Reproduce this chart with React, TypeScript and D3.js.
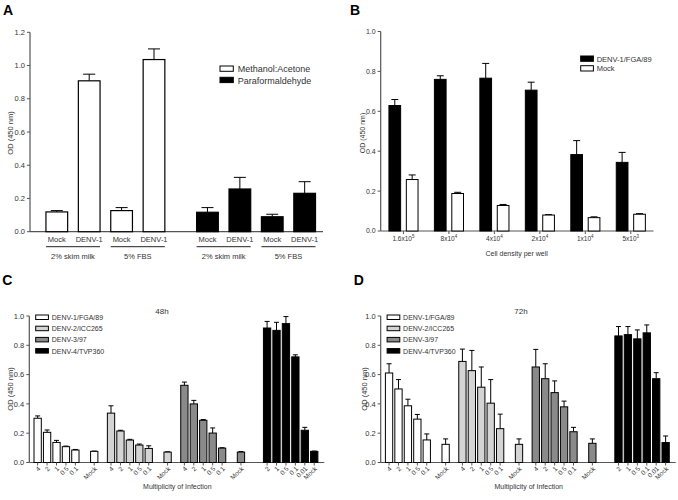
import React from "react";
import * as d3 from "d3";

const FONT = "'Liberation Sans', Arial, Helvetica, sans-serif";
const AXIS = "#555";
const TXT = "#333";

// ---------- Panel A data ----------
const aConditions = ["Mock", "DENV-1", "Mock", "DENV-1"];
const aMedia = ["2% skim milk", "5% FBS"];
const aFixatives = ["Methanol:Acetone", "Paraformaldehyde"];
const aMethanolMean = [0.119, 0.908, 0.127, 1.036];
const aMethanolErr = [0.008, 0.04, 0.018, 0.064];
const aParaMean = [0.117, 0.257, 0.09, 0.231];
const aParaErr = [0.028, 0.07, 0.015, 0.07];
const aTicks = [0, 0.2, 0.4, 0.6, 0.8, 1.0, 1.2];

// ---------- Panel B data ----------
const bDensityBase = ["1.6x10", "8x10", "4x10", "2x10", "1x10", "5x10"];
const bDensityExp = ["5", "4", "4", "4", "4", "3"];
const bSeries = ["DENV-1/FGA/89", "Mock"];
const bDenvMean = [0.629, 0.76, 0.766, 0.706, 0.383, 0.344];
const bDenvErr = [0.03, 0.018, 0.074, 0.04, 0.07, 0.05];
const bMockMean = [0.258, 0.188, 0.128, 0.08, 0.067, 0.084];
const bMockErr = [0.023, 0.006, 0.005, 0.002, 0.004, 0.003];
const bTicks = [0, 0.2, 0.4, 0.6, 0.8, 1.0];

// ---------- Panels C & D data ----------
const serotypes = ["DENV-1/FGA/89", "DENV-2/ICC265", "DENV-3/97", "DENV-4/TVP360"];
const moiLabels = [
  ["4", "2", "1", "0.5", "0.1", "Mock"],
  ["4", "2", "1", "0.5", "0.1", "Mock"],
  ["4", "2", "1", "0.5", "0.1", "Mock"],
  ["2", "1", "0.5", "0.1", "0.01", "Mock"],
];
const c48Mean = [
  [0.302, 0.206, 0.137, 0.108, 0.085, 0.076],
  [0.337, 0.215, 0.153, 0.119, 0.096, 0.071],
  [0.527, 0.4, 0.288, 0.201, 0.098, 0.071],
  [0.918, 0.902, 0.948, 0.721, 0.22, 0.076],
];
const c48Err = [
  [0.016, 0.016, 0.014, 0.004, 0.004, 0.002],
  [0.05, 0.005, 0.005, 0.007, 0.018, 0.002],
  [0.022, 0.024, 0.005, 0.035, 0.003, 0.004],
  [0.045, 0.055, 0.048, 0.014, 0.02, 0.002],
];
const d72Mean = [
  [0.611, 0.502, 0.387, 0.296, 0.154, 0.124],
  [0.69, 0.627, 0.514, 0.405, 0.231, 0.124],
  [0.652, 0.572, 0.477, 0.38, 0.21, 0.131],
  [0.864, 0.873, 0.844, 0.885, 0.572, 0.136],
];
const d72Err = [
  [0.063, 0.064, 0.045, 0.032, 0.041, 0.037],
  [0.084, 0.138, 0.138, 0.161, 0.099, 0.037],
  [0.12, 0.102, 0.08, 0.039, 0.03, 0.03],
  [0.064, 0.055, 0.061, 0.054, 0.041, 0.045],
];
const cdTicks = [0, 0.2, 0.4, 0.6, 0.8, 1.0];
const serotypeFills = ["#ffffff", "#d4d4d4", "#8a8a8a", "#000000"];

// layout (not data)
const cdGroupStart = [0, 7.78, 15.56, 24.33];
const cdSlotOffsets = [
  [0, 1, 2, 3, 4, 6],
  [0, 1, 2, 3, 4, 6],
  [0, 1, 2, 3, 4, 6],
  [0, 1, 2, 3, 4, 5],
];

const fmt = d3.format(".1f");

function ErrBar({ x, y0, y1, cap }: { x: number; y0: number; y1: number; cap: number }) {
  return (
    <g stroke="#000" strokeWidth={1}>
      <line x1={x} x2={x} y1={y0} y2={y1} />
      <line x1={x - cap / 2} x2={x + cap / 2} y1={y1} y2={y1} />
    </g>
  );
}

function YAxis({ x, y, ticks, fs }: { x: number; y: d3.ScaleLinear<number, number>; ticks: number[]; fs: number }) {
  const [r0, r1] = y.range();
  return (
    <g>
      <line x1={x} x2={x} y1={r0} y2={r1} stroke={AXIS} strokeWidth={1.2} />
      {ticks.map((t) => (
        <g key={t}>
          <line x1={x - 3} x2={x} y1={y(t)} y2={y(t)} stroke={AXIS} strokeWidth={1} />
          <text x={x - 5} y={y(t)} dy="0.35em" textAnchor="end" fontSize={fs} fill={TXT}>
            {fmt(t)}
          </text>
        </g>
      ))}
    </g>
  );
}

function PanelA() {
  const axisX = 30;
  const y = d3.scaleLinear().domain([0, 1.2]).range([231.7, 32.3]);
  const slot = d3.scaleLinear().domain([0, 1]).range([56.8, 89.2]);
  const groupOffset = [0, 4.65];
  const bw = 21.7;
  const series = [
    { mean: aMethanolMean, err: aMethanolErr, fill: "#fff" },
    { mean: aParaMean, err: aParaErr, fill: "#000" },
  ];
  const y0 = y(0);
  return (
    <g>
      <text x={3} y={15} fontSize={14} fontWeight="bold" fill="#000">A</text>
      <YAxis x={axisX} y={y} ticks={aTicks} fs={7.5} />
      <line x1={axisX} x2={323} y1={y0} y2={y0} stroke={AXIS} strokeWidth={1.2} />
      {series.map((s, si) =>
        s.mean.map((v, i) => {
          const cx = slot(groupOffset[si] + i);
          return (
            <g key={`${si}-${i}`}>
              <ErrBar x={cx} y0={y(v)} y1={y(v + s.err[i])} cap={12} />
              <rect x={cx - bw / 2} y={y(v)} width={bw} height={y0 - y(v)} fill={s.fill} stroke="#000" strokeWidth={1.2} />
              <text x={cx} y={241.5} textAnchor="middle" fontSize={7.5} fill={TXT}>{aConditions[i]}</text>
            </g>
          );
        })
      )}
      {series.map((s, si) =>
        aMedia.map((m, mi) => {
          const l = slot(groupOffset[si] + mi * 2) - bw / 2;
          const r = slot(groupOffset[si] + mi * 2 + 1) + bw / 2;
          return (
            <g key={`u${si}-${mi}`}>
              <line x1={l} x2={r} y1={246.7} y2={246.7} stroke="#222" strokeWidth={1} />
              <text x={(l + r) / 2} y={259} textAnchor="middle" fontSize={7.5} fill={TXT}>{m}</text>
            </g>
          );
        })
      )}
      <text transform={`translate(12.5,133) rotate(-90)`} textAnchor="middle" fontSize={7.5} fill={TXT}>OD (450 nm)</text>
      {aFixatives.map((f, i) => (
        <g key={f}>
          <rect x={220} y={66 + i * 11.3} width={13.3} height={5.3} fill={series[i].fill} stroke="#000" strokeWidth={1} />
          <text x={237.7} y={72.2 + i * 11.3} fontSize={9} fill={TXT}>{f}</text>
        </g>
      ))}
    </g>
  );
}

function PanelB() {
  const axisX = 380.7;
  const y = d3.scaleLinear().domain([0, 1]).range([231, 31.5]);
  const x = d3.scaleBand<number>().domain(d3.range(bDenvMean.length)).range([axisX, 653.5]);
  const bw = 11.7;
  const y0 = y(0);
  const series = [
    { mean: bDenvMean, err: bDenvErr, fill: "#000", dx: -14.5 },
    { mean: bMockMean, err: bMockErr, fill: "#fff", dx: 2.9 },
  ];
  return (
    <g>
      <text x={350} y={15} fontSize={14} fontWeight="bold" fill="#000">B</text>
      <YAxis x={axisX} y={y} ticks={bTicks} fs={7} />
      <line x1={axisX} x2={653.5} y1={y0} y2={y0} stroke={AXIS} strokeWidth={1.2} />
      {bDenvMean.map((_, i) => {
        const c = (x(i) as number) + x.bandwidth() / 2;
        return (
          <g key={i}>
            <line x1={c} x2={c} y1={y0} y2={y0 + 3} stroke={AXIS} />
            <text x={c} y={240.5} textAnchor="middle" fontSize={6.5} fill={TXT}>
              {bDensityBase[i]}
              <tspan dy={-3} fontSize={4.5}>{bDensityExp[i]}</tspan>
            </text>
            {series.map((s, si) => {
              const cx = c + s.dx + bw / 2;
              const v = s.mean[i];
              return (
                <g key={si}>
                  <ErrBar x={cx} y0={y(v)} y1={y(v + s.err[i])} cap={7} />
                  <rect x={cx - bw / 2} y={y(v)} width={bw} height={y0 - y(v)} fill={s.fill} stroke="#000" strokeWidth={1} />
                </g>
              );
            })}
          </g>
        );
      })}
      <text x={516.7} y={256} textAnchor="middle" fontSize={7} fill={TXT}>Cell density per well</text>
      <text transform={`translate(365,133) rotate(-90)`} textAnchor="middle" fontSize={7} fill={TXT}>OD (450 nm)</text>
      {bSeries.map((s, i) => (
        <g key={s}>
          <rect x={580.7} y={56 + i * 9.7} width={12.7} height={5.3} fill={series[i].fill} stroke="#000" strokeWidth={1} />
          <text x={596.7} y={61.5 + i * 9.7} fontSize={7.5} fill={TXT}>{s}</text>
        </g>
      ))}
    </g>
  );
}

function PanelCD({ letter, ox, title, titleX, mean, err, ylabX }: {
  letter: string; ox: number; title: string; titleX: number; mean: number[][]; err: number[][]; ylabX: number;
}) {
  const axisX = ox;
  const y = d3.scaleLinear().domain([0, 1]).range([462.5, 316]);
  const bw = 7.3;
  const first = axisX + 4.7 + bw / 2;
  const slot = d3.scaleLinear().domain([0, 1]).range([first, first + 9.43]);
  const y0 = y(0);
  return (
    <g>
      <text x={ox - 27} y={285} fontSize={14} fontWeight="bold" fill="#000">{letter}</text>
      <YAxis x={axisX} y={y} ticks={cdTicks} fs={7.5} />
      <line x1={axisX} x2={axisX + 295} y1={y0} y2={y0} stroke={AXIS} strokeWidth={1.2} />
      {mean.map((grp, g) =>
        grp.map((v, i) => {
          const cx = slot(cdGroupStart[g] + cdSlotOffsets[g][i]);
          return (
            <g key={`${g}-${i}`}>
              <ErrBar x={cx} y0={y(v)} y1={y(v + err[g][i])} cap={5} />
              <rect x={cx - bw / 2} y={y(v)} width={bw} height={y0 - y(v)} fill={serotypeFills[g]} stroke="#000" strokeWidth={1} />
              <line x1={cx} x2={cx} y1={y0} y2={y0 + 3} stroke={AXIS} />
              <text transform={`translate(${cx + 1.5},${y0 + 5}) rotate(-45)`} textAnchor="end" dy="0.35em" fontSize={6.5} fill={TXT}>
                {moiLabels[g][i]}
              </text>
            </g>
          );
        })
      )}
      <text x={titleX} y={314} textAnchor="middle" fontSize={8} fill={TXT}>{title}</text>
      <text x={axisX + 148} y={489} textAnchor="middle" fontSize={7} fill={TXT}>Multiplicity of Infection</text>
      <text transform={`translate(${ylabX},389) rotate(-90)`} textAnchor="middle" fontSize={7.5} fill={TXT}>OD (450 nm)</text>
      {serotypes.map((s, i) => (
        <g key={s}>
          <rect x={axisX + 6.4} y={315 + i * 11.2} width={12.7} height={4.5} fill={serotypeFills[i]} stroke="#000" strokeWidth={1} />
          <text x={axisX + 22.4} y={320 + i * 11.2} fontSize={7} fill={TXT}>{s}</text>
        </g>
      ))}
    </g>
  );
}

export default function App() {
  return (
    <svg width={678} height={500} style={{ display: "block", position: "absolute", left: 0, top: 0, background: "#fff" }} fontFamily={FONT}>
      <rect width={678} height={500} fill="#fff" />
      <PanelA />
      <PanelB />
      <PanelCD letter="C" ox={29.3} title="48h" titleX={162} mean={c48Mean} err={c48Err} ylabX={12.5} />
      <PanelCD letter="D" ox={380.7} title="72h" titleX={521} mean={d72Mean} err={d72Err} ylabX={367} />
    </svg>
  );
}
